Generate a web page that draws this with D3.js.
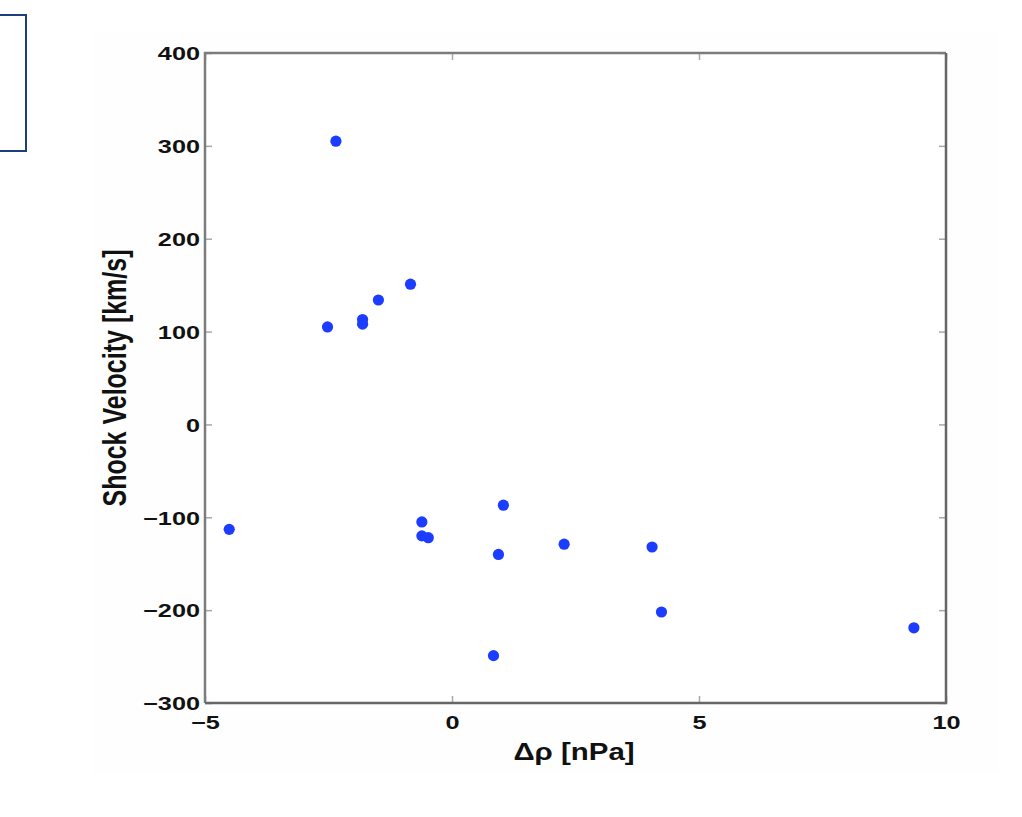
<!DOCTYPE html>
<html><head><meta charset="utf-8">
<script src="https://cdn.jsdelivr.net/npm/d3@7"></script>
<style>body{margin:0;background:#fff}svg{display:block}</style>
</head><body>
<svg id="c" width="1022" height="817"></svg>
<script>
const dp = [-4.51, -2.35, -2.52, -1.81, -1.81, -1.49, -0.84, -0.61, -0.61, -0.48, 1.04, 0.94, 2.27, 4.05, 4.24, 0.84, 9.35];
const vel = [-113, 305, 105, 108, 113, 134, 151, -105, -120, -122, -87, -140, -129, -132, -202, -249, -219];
const xTicks = [-5, 0, 5, 10];
const yTicks = [-300, -200, -100, 0, 100, 200, 300, 400];
const xLabel = "Δρ [nPa]";
const yLabel = "Shock Velocity [km/s]";

const svg = d3.select("#c");
const L = 205, R = 946, T = 53, B = 703;
const SX = 1.33; // horizontal stretch of the lettering
const FONT = "Liberation Sans, Arial, Helvetica, sans-serif";
const x = d3.scaleLinear().domain([-5, 10]).range([L, R]);
const y = d3.scaleLinear().domain([-300, 400]).range([B, T]);
const fmt = d => d < 0 ? "\u2212" + Math.abs(d) : String(d);

// faint background panel
svg.append("rect").attr("x", 93).attr("y", 33).attr("width", 905).attr("height", 740).attr("fill", "#fefefe");
svg.append("rect").attr("x", L).attr("y", T).attr("width", R - L).attr("height", B - T).attr("fill", "#fff");

// top-left box
svg.append("rect").attr("x", -5).attr("y", 15).attr("width", 31).attr("height", 136)
  .attr("fill", "none").attr("stroke", "#1d3f7e").attr("stroke-width", 2);

const tickStyle = g => {
  g.select(".domain").remove();
  g.selectAll(".tick line").attr("stroke", "#a8a8a8").attr("stroke-width", 1.5);
  g.selectAll(".tick text").attr("fill", "#111").attr("font-family", FONT)
    .attr("font-size", 19).attr("font-weight", "bold");
};
svg.append("g").attr("transform", `translate(0,${B})`)
  .call(d3.axisBottom(x).tickValues(xTicks).tickFormat(fmt).tickSizeInner(-7).tickPadding(13)).call(tickStyle)
  .selectAll(".tick text").attr("transform", `scale(${SX},1)`);
svg.append("g").attr("transform", `translate(0,${T})`)
  .call(d3.axisTop(x).tickValues(xTicks).tickFormat("").tickSizeInner(-7)).call(tickStyle);
svg.append("g").attr("transform", `translate(${L},0)`)
  .call(d3.axisLeft(y).tickValues(yTicks).tickFormat(fmt).tickSizeInner(-7)).call(tickStyle)
  .selectAll(".tick text").attr("x", -5 / SX).attr("dy", "0.36em").attr("transform", `scale(${SX},1)`);
svg.append("g").attr("transform", `translate(${R},0)`)
  .call(d3.axisRight(y).tickValues(yTicks).tickFormat("").tickSizeInner(-7)).call(tickStyle);

// frame
svg.append("path").attr("d", `M${L},${B}V${T}H${R}`).attr("fill", "none").attr("stroke", "#7c7c7c").attr("stroke-width", 2.5);
svg.append("path").attr("d", `M${L},${B}H${R}V${T}`).attr("fill", "none").attr("stroke", "#666").attr("stroke-width", 2.5);

// points
svg.append("g").selectAll("circle").data(dp.map((d, i) => [d, vel[i]])).join("circle")
  .attr("cx", d => x(d[0])).attr("cy", d => y(d[1])).attr("r", 5.6).attr("fill", "#1c3dff");

// labels
svg.append("text").attr("transform", `translate(574,760) scale(1.28,1)`).attr("text-anchor", "middle")
  .attr("font-family", FONT).attr("font-size", 23).attr("font-weight", "bold")
  .attr("fill", "#111").text(xLabel);
svg.append("text").attr("transform", `translate(126,378) rotate(-90) scale(1,1.3)`).attr("text-anchor", "middle")
  .attr("font-family", FONT).attr("font-size", 25).attr("font-weight", "bold")
  .attr("fill", "#111").text(yLabel);
</script>
</body></html>
